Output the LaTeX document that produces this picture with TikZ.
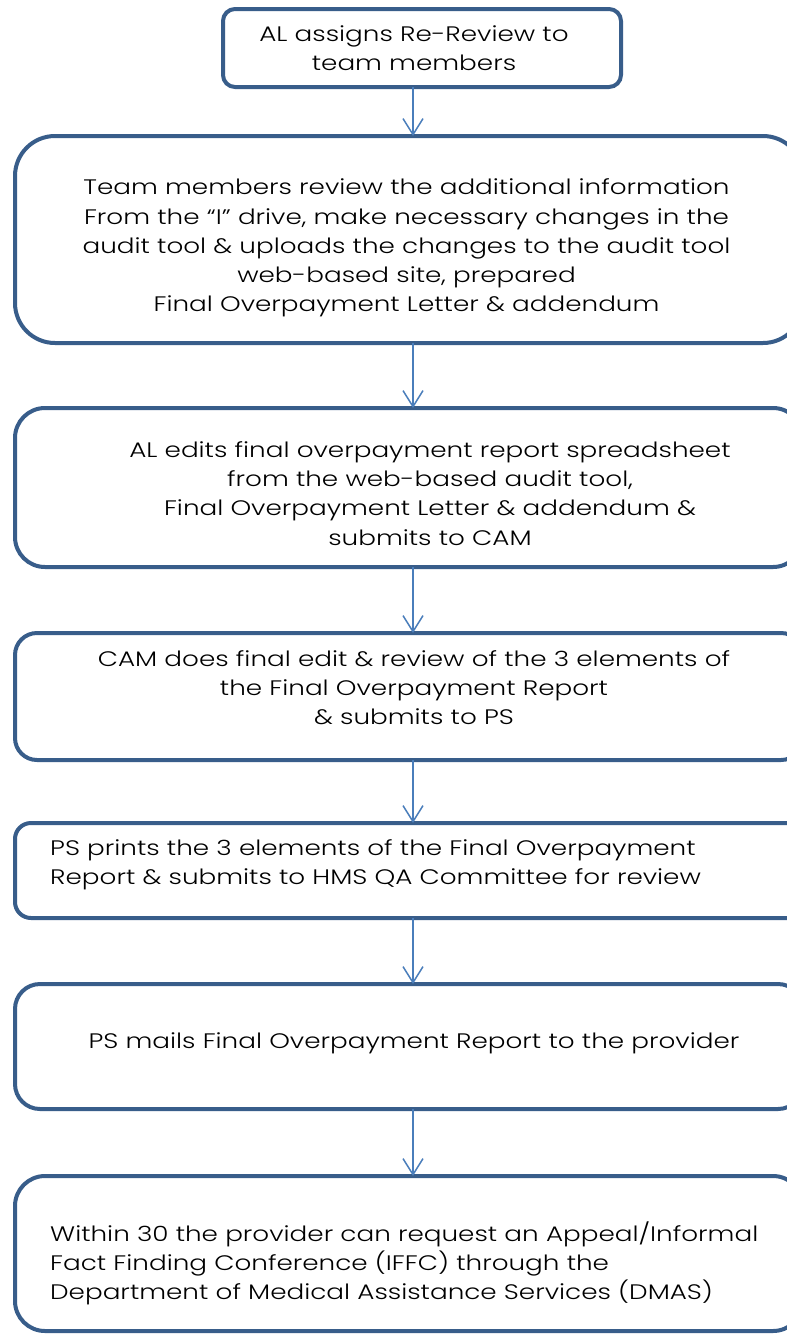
\documentclass[tikz,border=0pt]{standalone}
\usepackage{fontspec}
\setmainfont[FakeStretch=1.25,UprightFont=* Light]{Poppins}
\usetikzlibrary{arrows.meta}
\definecolor{boxline}{HTML}{385D8A}
\definecolor{arrowline}{HTML}{4A7EBB}
\begin{document}
\begin{tikzpicture}
		[x=1pt,y=-1pt,
		stepbox/.style={draw=boxline,line width=4pt,rounded corners=#1,inner sep=0pt,outer sep=0pt,
			minimum width=788pt},
		stepbox/.default=25pt,
		steptext/.style={font=\fontsize{21}{29.2}\selectfont,align=center,inner sep=0pt},
		flow/.style={draw=arrowline,line width=1.5pt,-{Straight Barb[length=16pt,width=20pt]}}
		]
		\useasboundingbox[fill=white] (0,0) rectangle (787,1334);
		\coordinate (spine) at (413,0);
		\node[stepbox=12pt,minimum width=398pt,minimum height=78pt] (assign) at (422,48) {};
		\node[stepbox=40pt,minimum height=207pt] (review) at (409,239.5) {};
		\node[stepbox=30pt,minimum height=159pt] (edit) at (409,487.5) {};
		\node[stepbox=22pt,minimum height=127pt] (cam) at (409,696.5) {};
		\node[stepbox=16pt,minimum height=95pt] (print) at (409,870.5) {};
		\node[stepbox=25pt,minimum height=125pt] (mail) at (409,1046.5) {};
		\node[stepbox=30pt,minimum height=155pt] (appeal) at (409,1253.5) {};
		\node[steptext] (assigntext) at (414,48) {AL assigns Re-Review to\\team members};
		\node[steptext] (reviewtext) at (406.5,248) {Team members review the additional information\\
			From the “I” drive, make necessary changes in the\\
			audit tool \& uploads the changes to the audit tool\\
			web-based site, prepared\\
			Final Overpayment Letter \& addendum};
		\node[steptext] (edittext) at (430,493.5) {AL edits final overpayment report spreadsheet\\
			from the web-based audit tool,\\
			Final Overpayment Letter \& addendum \&\\
			submits to CAM};
		\node[steptext] (camtext) at (414,687.5) {CAM does final edit \& review of the 3 elements of\\
			the Final Overpayment Report\\
			\& submits to PS};
		\node[steptext,align=left,anchor=west] (printtext) at (50,864.5) {PS prints the 3 elements of the Final Overpayment\\
			Report \& submits to HMS QA Committee for review};
		\node[steptext] (mailtext) at (414,1043) {PS mails Final Overpayment Report to the provider};
		\node[steptext,align=left,anchor=west] (appealtext) at (50,1263.5) {Within 30 the provider can request an Appeal/Informal\\
			Fact Finding Conference (IFFC) through the\\
			Department of Medical Assistance Services (DMAS)};
		\draw[flow] (assign.south -| spine) -- (review.north -| spine);
		\draw[flow] (review.south -| spine) -- (edit.north -| spine);
		\draw[flow] (edit.south -| spine) -- (cam.north -| spine);
		\draw[flow] (cam.south -| spine) -- (print.north -| spine);
		\draw[flow] (print.south -| spine) -- (mail.north -| spine);
		\draw[flow] (mail.south -| spine) -- (appeal.north -| spine);
	\end{tikzpicture}
\end{document}
